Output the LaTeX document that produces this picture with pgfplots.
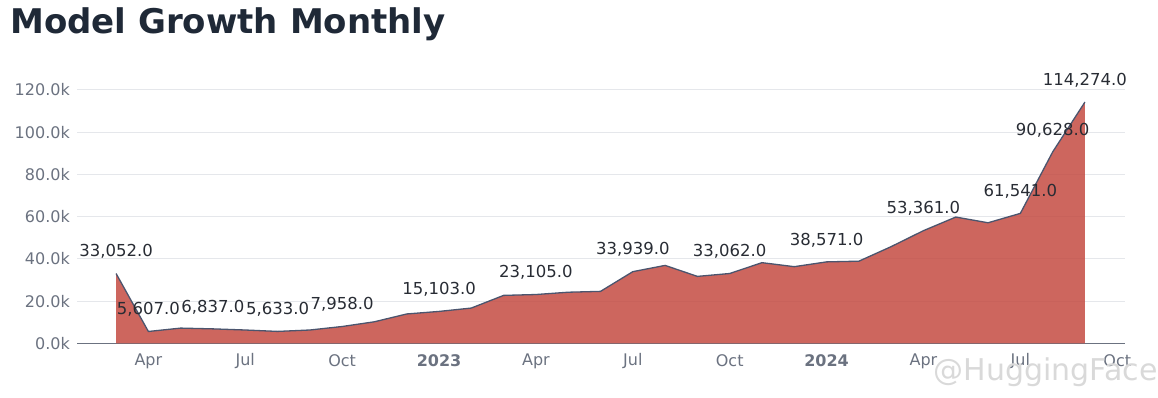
\documentclass[border=0pt]{standalone}
\usepackage{pgfplots}
\pgfplotsset{compat=1.18}
\usepackage{pgfplotstable}
\usepackage{fontspec}
\setmainfont{DejaVu Sans}
\definecolor{areafill}{RGB}{196,75,66}
\definecolor{lineclr}{RGB}{75,85,110}
\definecolor{gridclr}{RGB}{229,231,235}
\definecolor{tickclr}{RGB}{107,114,128}
\definecolor{titleclr}{RGB}{31,41,55}
\definecolor{lblclr}{RGB}{40,44,52}

\pgfplotstableread{
m v
0 33052
1 5607
2 7200
3 6837
4 6300
5 5633
6 6300
7 7958
8 10200
9 13900
10 15103
11 16700
12 22700
13 23105
14 24200
15 24600
16 33939
17 36900
18 31700
19 33062
20 38200
21 36300
22 38571
23 38900
24 45800
25 53361
26 59800
27 57100
28 61541
29 90628
30 114274
}\growth

\pgfplotstableread{
m v label
0 33052 33,052.0
1 5607 5,607.0
3 6837 6,837.0
5 5633 5,633.0
7 7958 7,958.0
10 15103 15,103.0
13 23105 23,105.0
16 33939 33,939.0
19 33062 33,062.0
22 38571 38,571.0
25 53361 53,361.0
28 61541 61,541.0
29 90628 90,628.0
30 114274 114,274.0
}\labels

\begin{document}
\begin{tikzpicture}[x=1pt,y=1pt]
\useasboundingbox (0,0) rectangle (1158,397);
\node[anchor=base west, font=\fontsize{34}{34}\selectfont\bfseries, text=titleclr, inner sep=0pt] at (10,363.7) {Model Growth Monthly};
\begin{axis}[
  at={(77pt,53.7pt)}, anchor=south west,
  scale only axis, width=1048pt, height=273.3pt,
  xmin=-1.21, xmax=31.24, ymin=0, ymax=129460,
  clip=false,
  axis x line*=bottom, axis y line*=left,
  y axis line style={draw=none},
  x axis line style={draw=tickclr, line width=1.5pt, -},
  major tick length=0pt,
  xtick style={draw=none}, ytick style={draw=none},
  ymajorgrids, grid style={draw=gridclr, line width=1pt},
  xtick={1,4,7,10,13,16,19,22,25,28,31},
  xticklabels={Apr,Jul,Oct,\textbf{2023},Apr,Jul,Oct,\textbf{2024},Apr,Jul,Oct},
  ytick={0,20000,40000,60000,80000,100000,120000},
  yticklabels={0.0k,20.0k,40.0k,60.0k,80.0k,100.0k,120.0k},
  scaled y ticks=false,
  yticklabel style={font=\fontsize{16}{16}\selectfont, text=tickclr, anchor=east, inner sep=0pt, xshift=-7pt},
  xticklabel style={font=\fontsize{16}{16}\selectfont, text=tickclr, anchor=center, inner sep=0pt, yshift=-17.7pt},
]
\addplot[draw=none, fill=areafill, fill opacity=0.85] table[x=m,y=v]{\growth} \closedcycle;
\addplot[lineclr, line width=1.3pt, mark=none] table[x=m,y=v]{\growth};
\addplot[draw=none, mark=none, nodes near coords, point meta=explicit symbolic,
  nodes near coords style={anchor=center, yshift=22pt, font=\fontsize{16.5}{16.5}\selectfont, text=lblclr, inner sep=0pt}]
  table[x=m,y=v,meta=label]{\labels};
\end{axis}
\node[anchor=base west, text=gray!30, font=\fontsize{30}{30}\selectfont] at (930,17) {@HuggingFace};
\end{tikzpicture}
\end{document}
